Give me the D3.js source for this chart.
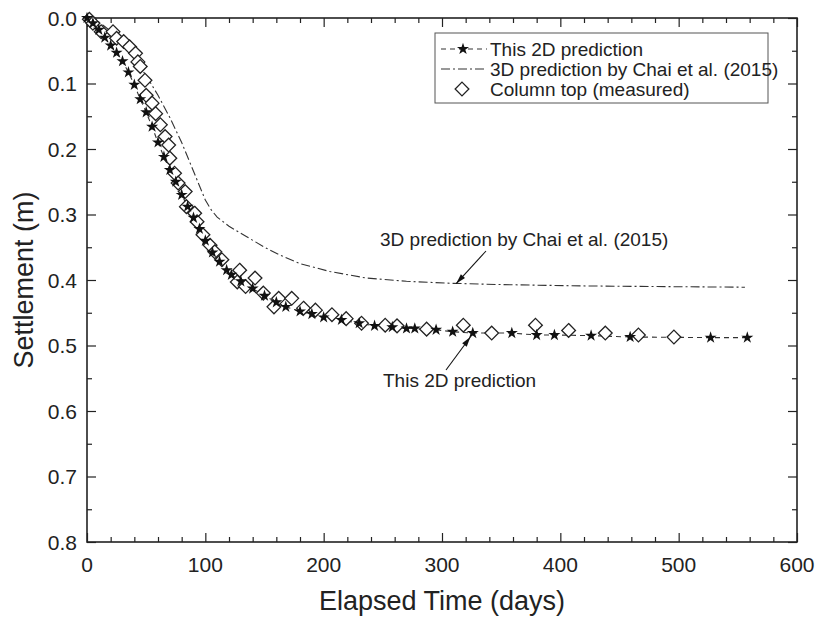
<!DOCTYPE html>
<html>
<head>
<meta charset="utf-8">
<script src="https://cdn.jsdelivr.net/npm/d3@7"></script>
<style>
  html, body { margin: 0; padding: 0; background: #fff; }
  svg text { font-family: "Liberation Sans", Arial, sans-serif; fill: #222; }
</style>
</head>
<body>
<svg id="chart" width="818" height="626"></svg>
<script>
// Settlement vs elapsed time: 2D prediction, 3D prediction (Chai et al. 2015), measured column top
const pred2dDays = [0, 5, 10, 15, 20, 25, 30, 35, 40, 45, 50, 55, 60, 65, 70, 75, 80, 85, 90, 95,
  100, 106, 112, 118, 122, 130, 140, 150, 160, 168, 180, 190, 200, 215, 230, 243, 258, 270, 277,
  295, 309, 326, 359, 380, 395, 426, 459, 527, 558];
const pred2dSettle = [0, 0.008, 0.018, 0.030, 0.042, 0.053, 0.066, 0.083, 0.102, 0.124, 0.144, 0.166,
  0.190, 0.212, 0.232, 0.250, 0.270, 0.288, 0.305, 0.322, 0.340, 0.358, 0.372, 0.385, 0.392, 0.402,
  0.413, 0.424, 0.434, 0.441, 0.448, 0.452, 0.457, 0.461, 0.466, 0.470, 0.472, 0.474, 0.474, 0.476,
  0.479, 0.481, 0.481, 0.484, 0.484, 0.485, 0.487, 0.488, 0.488];

const pred3dDays = [0, 10, 20, 30, 40, 50, 60, 70, 80, 90, 100, 105, 110, 120, 135, 150, 163, 180,
  205, 236, 270, 307, 350, 417, 480, 556];
const pred3dSettle = [0, 0.006, 0.020, 0.039, 0.062, 0.088, 0.118, 0.152, 0.190, 0.234, 0.278, 0.293,
  0.304, 0.318, 0.334, 0.350, 0.362, 0.375, 0.387, 0.397, 0.402, 0.405, 0.407, 0.409, 0.410, 0.411];

const measDays = [2, 5, 12, 22, 25, 31, 36, 41, 43, 45, 49, 50, 55, 58, 62, 66, 69, 70, 74, 77, 83,
  84, 91, 93, 98, 104, 108, 114, 127, 129, 134, 142, 149, 158, 162, 173, 183, 193, 207, 219, 232,
  252, 262, 287, 318, 342, 379, 407, 438, 466, 496];
const measSettle = [0.002, 0.008, 0.021, 0.021, 0.031, 0.036, 0.044, 0.054, 0.067, 0.074, 0.095, 0.118,
  0.130, 0.146, 0.163, 0.181, 0.194, 0.214, 0.237, 0.252, 0.265, 0.288, 0.298, 0.311, 0.331, 0.347,
  0.357, 0.369, 0.403, 0.385, 0.410, 0.397, 0.420, 0.441, 0.428, 0.428, 0.443, 0.446, 0.453, 0.459,
  0.466, 0.469, 0.470, 0.475, 0.469, 0.481, 0.469, 0.477, 0.481, 0.484, 0.487];

const xTicks = [0, 100, 200, 300, 400, 500, 600];
const yTicks = [0.0, 0.1, 0.2, 0.3, 0.4, 0.5, 0.6, 0.7, 0.8];

const legendLabels = ["This 2D prediction", "3D prediction by Chai et al. (2015)", "Column top (measured)"];
const note3d = "3D prediction by Chai et al. (2015)";
const note2d = "This 2D prediction";

const svg = d3.select("#chart");
const plotL = 87, plotR = 797, plotT = 18, plotB = 542;

const x = d3.scaleLinear().domain([0, 600]).range([plotL, plotR]);
const y = d3.scaleLinear().domain([0, 0.8]).range([plotT, plotB]);

const ink = "#222";

// Frame axes with inward ticks
const majorLen = 9, minorLen = 5;
const xMinor = d3.range(0, 601, 20).filter(v => v % 100 !== 0);
const yMinor = d3.range(0.05, 0.8, 0.1);

function tickSet(axisGen, g) {
  g.call(axisGen);
  g.select(".domain").remove();
  g.selectAll("line").attr("stroke", ink).attr("stroke-width", 1.2);
}

// bottom
tickSet(d3.axisTop(x).tickValues(xTicks).tickSize(majorLen).tickFormat(""),
  svg.append("g").attr("transform", `translate(0,${plotB})`));
tickSet(d3.axisTop(x).tickValues(xMinor).tickSize(minorLen).tickFormat(""),
  svg.append("g").attr("transform", `translate(0,${plotB})`));
// top
tickSet(d3.axisBottom(x).tickValues(xTicks).tickSize(majorLen).tickFormat(""),
  svg.append("g").attr("transform", `translate(0,${plotT})`));
tickSet(d3.axisBottom(x).tickValues(xMinor).tickSize(minorLen).tickFormat(""),
  svg.append("g").attr("transform", `translate(0,${plotT})`));
// left
tickSet(d3.axisRight(y).tickValues(yTicks).tickSize(majorLen).tickFormat(""),
  svg.append("g").attr("transform", `translate(${plotL},0)`));
tickSet(d3.axisRight(y).tickValues(yMinor).tickSize(minorLen).tickFormat(""),
  svg.append("g").attr("transform", `translate(${plotL},0)`));
// right
tickSet(d3.axisLeft(y).tickValues(yTicks).tickSize(majorLen).tickFormat(""),
  svg.append("g").attr("transform", `translate(${plotR},0)`));
tickSet(d3.axisLeft(y).tickValues(yMinor).tickSize(minorLen).tickFormat(""),
  svg.append("g").attr("transform", `translate(${plotR},0)`));

svg.append("rect")
  .attr("x", plotL).attr("y", plotT)
  .attr("width", plotR - plotL).attr("height", plotB - plotT)
  .attr("fill", "none").attr("stroke", ink).attr("stroke-width", 1.6);

// Tick labels
svg.append("g").selectAll("text").data(xTicks).join("text")
  .attr("x", d => x(d)).attr("y", 572)
  .attr("text-anchor", "middle").attr("font-size", 21)
  .text(d => d);
svg.append("g").selectAll("text").data(yTicks).join("text")
  .attr("x", 77).attr("y", d => y(d)).attr("dy", "0.36em")
  .attr("text-anchor", "end").attr("font-size", 21)
  .text(d => d.toFixed(1));

// Axis titles
svg.append("text")
  .attr("x", (plotL + plotR) / 2).attr("y", 610)
  .attr("text-anchor", "middle").attr("font-size", 27)
  .text("Elapsed Time (days)");
svg.append("text")
  .attr("transform", `translate(33,${(plotT + plotB) / 2}) rotate(-90)`)
  .attr("text-anchor", "middle").attr("font-size", 27)
  .text("Settlement (m)");

// Series
const line = d3.line().x(d => x(d[0])).y(d => y(d[1]));
const s3d = pred3dDays.map((d, i) => [d, pred3dSettle[i]]);
const s2d = pred2dDays.map((d, i) => [d, pred2dSettle[i]]);
const meas = measDays.map((d, i) => [d, measSettle[i]]);

const dashDot = "9,3,2,3";
const dashed = "5,4";

svg.append("path").datum(s3d)
  .attr("d", line).attr("fill", "none")
  .attr("stroke", "#333").attr("stroke-width", 1.1)
  .attr("stroke-dasharray", dashDot);

svg.append("path").datum(s2d)
  .attr("d", line).attr("fill", "none")
  .attr("stroke", "#333").attr("stroke-width", 1.1)
  .attr("stroke-dasharray", dashed);

const diamond = d3.symbol().type(d3.symbolDiamond2).size(120);
const star = d3.symbol().type(d3.symbolStar).size(45);

svg.append("g").selectAll("path").data(meas).join("path")
  .attr("transform", d => `translate(${x(d[0])},${y(d[1])})`)
  .attr("d", diamond)
  .attr("fill", "#fff").attr("stroke", ink).attr("stroke-width", 1.3);

svg.append("g").selectAll("path").data(s2d).join("path")
  .attr("transform", d => `translate(${x(d[0])},${y(d[1])})`)
  .attr("d", star)
  .attr("fill", "#111");

// Annotations with arrows
function arrow(x1, y1, x2, y2) {
  svg.append("line")
    .attr("x1", x1).attr("y1", y1).attr("x2", x2).attr("y2", y2)
    .attr("stroke", "#111").attr("stroke-width", 1.1);
  const ang = Math.atan2(y2 - y1, x2 - x1);
  const L = 10, W = 2.8;
  const bx = x2 - L * Math.cos(ang), by = y2 - L * Math.sin(ang);
  const px = -Math.sin(ang) * W, py = Math.cos(ang) * W;
  svg.append("path")
    .attr("d", `M${x2},${y2}L${bx + px},${by + py}L${bx - px},${by - py}Z`)
    .attr("fill", "#111");
}

svg.append("text").attr("x", 380).attr("y", 246).attr("font-size", 19).text(note3d);
arrow(486, 251, x(312), y(0.4055));

svg.append("text").attr("x", 383).attr("y", 387).attr("font-size", 19).text(note2d);
arrow(446, 370, x(324), y(0.487));

// Legend
const lg = svg.append("g");
lg.append("rect")
  .attr("x", 435).attr("y", 33).attr("width", 333).attr("height", 70)
  .attr("fill", "#fff").attr("stroke", "#555").attr("stroke-width", 1);
const rowY = [49, 69, 89];
lg.selectAll("text").data(legendLabels).join("text")
  .attr("x", 490).attr("y", (d, i) => rowY[i] + 6.5)
  .attr("font-size", 19).text(d => d);
lg.append("line").attr("x1", 441).attr("x2", 487).attr("y1", rowY[0]).attr("y2", rowY[0])
  .attr("stroke", "#333").attr("stroke-width", 1.1).attr("stroke-dasharray", dashed);
lg.append("path").attr("transform", `translate(463,${rowY[0]})`).attr("d", star).attr("fill", "#111");
lg.append("line").attr("x1", 441).attr("x2", 487).attr("y1", rowY[1]).attr("y2", rowY[1])
  .attr("stroke", "#333").attr("stroke-width", 1.1).attr("stroke-dasharray", dashDot);
lg.append("path").attr("transform", `translate(462,${rowY[2]})`).attr("d", diamond)
  .attr("fill", "#fff").attr("stroke", ink).attr("stroke-width", 1.3);
</script>
</body>
</html>
